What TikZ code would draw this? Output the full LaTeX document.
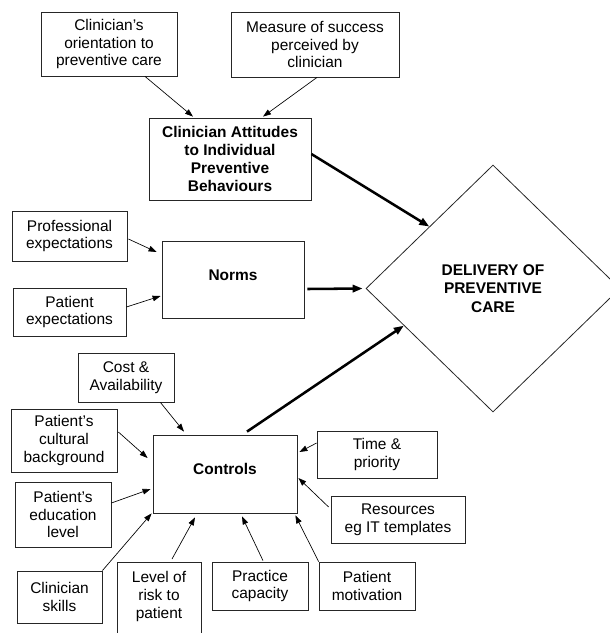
\documentclass[tikz,border=0pt]{standalone}
\usepackage{fontspec}
\setmainfont{Liberation Sans}
\usetikzlibrary{shapes.geometric,arrows.meta,calc}

\tikzset{
  box/.style={draw=black!85,line width=0.6pt,align=center,inner sep=0pt},
  sz/.style 2 args={minimum width=#1*0.75pt,minimum height=#2*0.75pt},
  boldtxt/.style={font=\fontsize{11.6pt}{13.5pt}\selectfont\bfseries},
  feed/.style={-{Triangle[length=6pt,width=4.2pt]},line width=0.5pt},
  mainarrow/.style={-{Triangle[length=7.5pt,width=5.5pt]},line width=1.9pt}
}

\begin{document}
\begin{tikzpicture}[x=0.75pt,y=-0.75pt,
  every node/.style={font=\fontsize{11.6pt}{13.2pt}\selectfont}]
  \useasboundingbox (0,0) rectangle (610,633);

  % Attitudes
  \node[box,sz={136}{64}] (orient) at (109,44) {Clinician's\\orientation to\\preventive care};
  \node[box,sz={168}{65}] (measure) at (315,44.5) {Measure of success\\perceived by\\clinician};
  \node[box,boldtxt,sz={162}{82}] (attitudes) at (230,159) {Clinician Attitudes\\to Individual\\Preventive\\Behaviours};

  % Norms
  \node[box,sz={115}{50}] (prof) at (69.5,236) {Professional\\expectations};
  \node[box,boldtxt,sz={142}{77},text depth=7pt] (norms) at (233,279.5) {Norms};
  \node[box,sz={113}{48}] (patexp) at (69.5,312) {Patient\\expectations};

  % Delivery
  \node[draw=black!85,line width=0.6pt,diamond,aspect=1.03,inner sep=0pt,sz={254}{247},align=center,
        font=\fontsize{11.6pt}{13.9pt}\selectfont\bfseries] (delivery) at (493,288.5) {DELIVERY OF\\PREVENTIVE\\CARE};

  % Controls
  \node[box,sz={96}{49}] (cost) at (126,377.5) {Cost \&\\Availability};
  \node[box,sz={106}{63}] (cultural) at (64,440.5) {Patient's\\cultural\\background};
  \node[box,boldtxt,sz={144}{78},text depth=7.5pt] (ctrl) at (225,474) {Controls};
  \node[box,sz={120}{47}] (time) at (377,454.5) {Time \&\\priority};
  \node[box,sz={96}{65}] (education) at (63,514.5) {Patient's\\education\\level};
  \node[box,sz={134}{47}] (resources) at (398,519.5) {Resources\\eg IT templates};
  \node[box,sz={85}{52}] (skills) at (59.5,597) {Clinician\\skills};
  \node[box,minimum width=84*0.75pt,anchor=north,inner ysep=7pt,text depth=38pt] (risk) at (159,562) {Level of\\risk to\\patient};
  \node[box,sz={96}{48}] (practice) at (260,586) {Practice\\capacity};
  \node[box,sz={96}{48}] (motivation) at (367,586) {Patient\\motivation};

  % Arrows into the attitudes and norms
  \draw[feed] ($(orient.south)+(36,0)$) -- ($(attitudes.north)+(-37,-1)$);
  \draw[feed] ($(measure.south)+(2,0)$) -- ($(attitudes.north)+(33,-1)$);
  \draw[feed] ($(prof.east)+(1,3)$) -- ($(norms.west)+(-5,-27.5)$);
  \draw[feed] ($(patexp.east)+(0,-5)$) -- ($(norms.west)+(-1,16.5)$);

  % Arrows into the controls
  \draw[feed] ($(cost.south east)+(-14,0)$) -- ($(ctrl.north)+(-41,-3)$);
  \draw[feed] ($(cultural.east)+(1,-8.5)$) -- ($(ctrl.west)+(-5,-16)$);
  \draw[feed] ($(education.east)+(0,-11.5)$) -- ($(ctrl.west)+(-2,15)$);
  \draw[feed] (skills.north east) -- ($(ctrl.south west)+(-1,0)$);
  \draw[feed] ($(risk.north)+(13,-3)$) -- ($(ctrl.south)+(-30,4)$);
  \draw[feed] ($(practice.north)+(3,-1)$) -- ($(ctrl.south)+(17,3)$);
  \draw[feed] (motivation.north west) -- ($(ctrl.south east)+(-2,2)$);
  \draw[feed] ($(time.west)+(0,-11.5)$) -- ($(ctrl.east)+(2,-22)$);
  \draw[feed] ($(resources.west)+(-2,-12.5)$) -- ($(ctrl.east)+(1,4)$);

  % Main arrows
  \draw[mainarrow] ($(attitudes.east)+(0,-5)$) -- (delivery.north west);
  \draw[mainarrow] ($(norms.east)+(3,9.5)$) -- ($(delivery.west)+(-3,0)$);
  \draw[mainarrow] ($(ctrl.north)+(22,-3)$) -- ($(delivery.west)!0.3!(delivery.south)$);
\end{tikzpicture}
\end{document}
